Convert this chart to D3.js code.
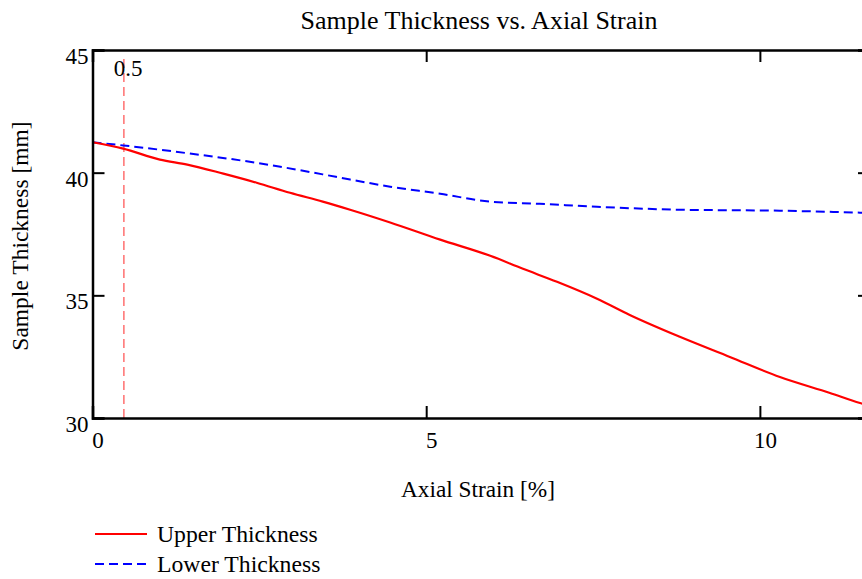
<!DOCTYPE html>
<html>
<head>
<meta charset="utf-8">
<script src="https://cdn.jsdelivr.net/npm/d3@7"></script>
<style>
  html, body { margin: 0; padding: 0; background: #fff; }
  svg { display: block; font-family: "Liberation Serif", "Times New Roman", serif; }
</style>
</head>
<body>
<svg id="chart" width="862" height="579"></svg>
<script>
// ---- Data ----
const strain = [0, 0.46, 1.01, 1.42, 1.96, 2.46, 2.96, 3.45, 3.86, 4.46, 5.21, 5.96, 6.45, 6.96, 7.56, 8.05, 8.80, 9.55, 10.30, 11.05, 11.50, 11.65];
const upperThickness = [41.24, 40.98, 40.53, 40.33, 39.96, 39.59, 39.18, 38.82, 38.49, 37.97, 37.27, 36.61, 36.08, 35.55, 34.86, 34.20, 33.31, 32.49, 31.67, 31.02, 30.61, 30.50];
const lowerStrain = [0, 0.46, 1.46, 2.46, 3.45, 3.86, 4.46, 5.21, 5.96, 6.70, 7.56, 8.80, 10.30, 11.50, 11.65];
const lowerThickness = [41.24, 41.11, 40.78, 40.40, 39.93, 39.72, 39.43, 39.14, 38.82, 38.73, 38.61, 38.49, 38.45, 38.37, 38.36];
const markerX = 0.47;
const markerLabel = "0.5";
const xTicks = [0, 5, 10];
const yTicks = [30, 35, 40, 45];
const xDomain = [0, 11.65];
const yDomain = [30, 45];
const seriesNames = ["Upper Thickness", "Lower Thickness"];
const titleText = "Sample Thickness vs. Axial Strain";
const xTitle = "Axial Strain [%]";
const yTitle = "Sample Thickness [mm]";

// ---- Layout ----
const svg = d3.select("#chart");
const L = 92.5, T = 50, B = 418, R = 870;

const x = d3.scaleLinear().domain(xDomain).range([L, R]);
const y = d3.scaleLinear().domain(yDomain).range([B, T]);

svg.append("rect").attr("width", 862).attr("height", 579).attr("fill", "#fff");

svg.append("clipPath").attr("id", "plotclip")
  .append("rect").attr("x", L).attr("y", T).attr("width", R - L).attr("height", B - T);

const plot = svg.append("g").attr("clip-path", "url(#plotclip)");

plot.append("line")
  .attr("x1", x(markerX)).attr("x2", x(markerX))
  .attr("y1", y(yDomain[0])).attr("y2", y(yDomain[1]) + 8)
  .attr("stroke", "#f77").attr("stroke-width", 1.6)
  .attr("stroke-dasharray", "9,5");

const lineGen = d3.line().x(d => x(d[0])).y(d => y(d[1])).curve(d3.curveMonotoneX);

plot.append("path")
  .datum(lowerStrain.map((s, i) => [s, lowerThickness[i]]))
  .attr("d", lineGen).attr("fill", "none")
  .attr("stroke", "#0000ff").attr("stroke-width", 2)
  .attr("stroke-dasharray", "9,5");

plot.append("path")
  .datum(strain.map((s, i) => [s, upperThickness[i]]))
  .attr("d", lineGen).attr("fill", "none")
  .attr("stroke", "#ff0000").attr("stroke-width", 2.2);

const tickLen = 12;
const tickFont = 23;
const gx = svg.append("g").attr("transform", `translate(0,${B})`)
  .call(d3.axisBottom(x).tickValues(xTicks).tickSize(-tickLen).tickPadding(0).tickFormat(d3.format("d")));
gx.selectAll("text").attr("dy", null).attr("y", 30).attr("dx", 5);

const gy = svg.append("g").attr("transform", `translate(${L},0)`)
  .call(d3.axisLeft(y).tickValues(yTicks).tickSize(-tickLen).tickPadding(4).tickFormat(d3.format("d")));
gy.selectAll("text").attr("dy", "0.32em").attr("y", 6);

const gt = svg.append("g").attr("transform", `translate(0,${T})`)
  .call(d3.axisTop(x).tickValues(xTicks).tickSize(-tickLen).tickFormat(""));
const gr = svg.append("g").attr("transform", `translate(${R},0)`)
  .call(d3.axisRight(y).tickValues(yTicks).tickSize(-tickLen).tickFormat(""));

[gx, gy, gt, gr].forEach(g => {
  g.select(".domain").attr("stroke", "#000").attr("stroke-width", 2.5);
  g.selectAll(".tick line").attr("stroke", "#000").attr("stroke-width", 2);
  g.selectAll("text").attr("font-family", "Liberation Serif, Times New Roman, serif")
    .attr("font-size", tickFont).attr("fill", "#000");
});

svg.append("text").attr("x", x(markerX) - 10).attr("y", 76)
  .attr("font-size", tickFont).text(markerLabel);

svg.append("text").attr("x", 479).attr("y", 29).attr("text-anchor", "middle")
  .attr("font-size", 26).text(titleText);
svg.append("text").attr("x", 478).attr("y", 497).attr("text-anchor", "middle")
  .attr("font-size", 23.3).text(xTitle);
svg.append("text").attr("transform", "translate(28,236) rotate(-90)").attr("text-anchor", "middle")
  .attr("font-size", 23.5).text(yTitle);

const legend = svg.append("g");
const legendItems = [
  { name: seriesNames[0], color: "#ff0000", dash: null, yy: 534 },
  { name: seriesNames[1], color: "#0000ff", dash: "9,5", yy: 564 }
];
legendItems.forEach(it => {
  legend.append("line").attr("x1", 95).attr("x2", 147).attr("y1", it.yy).attr("y2", it.yy)
    .attr("stroke", it.color).attr("stroke-width", 2.2)
    .attr("stroke-dasharray", it.dash);
  legend.append("text").attr("x", 157).attr("y", it.yy + 8).attr("font-size", 23.7).text(it.name);
});
</script>
</body>
</html>
